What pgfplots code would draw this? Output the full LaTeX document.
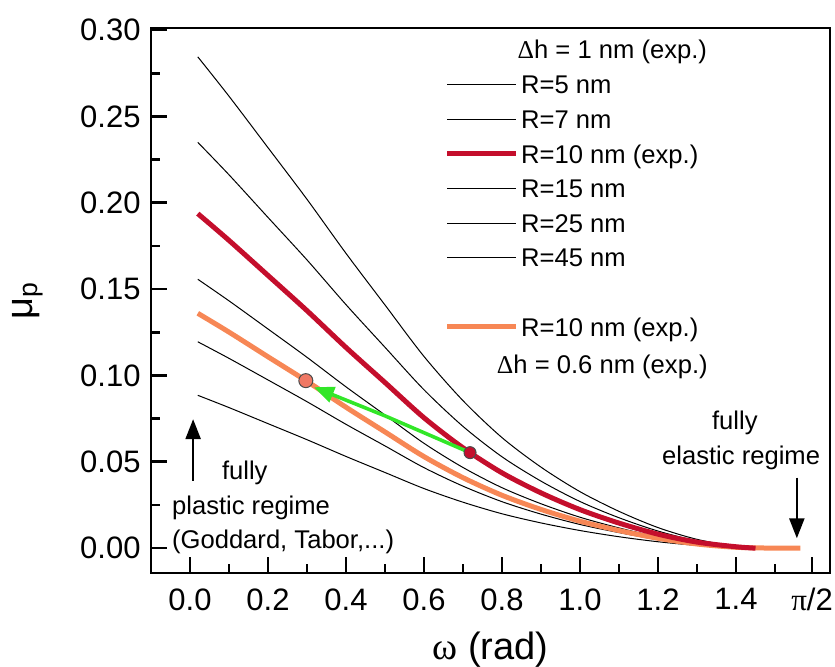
\documentclass[border=0pt]{standalone}
\usepackage{pgfplots}
\pgfplotsset{compat=1.18}
\usepackage{fontspec}
\setmainfont{Liberation Sans}
\newfontfamily\serifg{Liberation Serif}
\usetikzlibrary{arrows.meta}
\definecolor{redc}{RGB}{196,14,44}
\definecolor{orangec}{RGB}{247,135,85}
\definecolor{greenc}{RGB}{50,230,40}
\definecolor{dotor}{RGB}{240,120,100}
\newcommand{\smallfont}{\fontsize{12.8}{15}\selectfont}
\begin{document}
\begin{tikzpicture}
\begin{axis}[
  at={(0,0)}, anchor=south west,
  scale only axis, width=339.5pt, height=272.5pt,
  xmin=-0.1, xmax=1.641, ymin=-0.0144, ymax=0.3012,
  clip=false,
  axis line style={line width=1.2pt},
  tick align=inside, xtick pos=left, ytick pos=left,
  major tick length=8pt, minor tick length=4.5pt,
  tick style={draw=black, line width=1.3pt},
  xtick={0,0.2,0.4,0.6,0.8,1.0,1.2,1.4,1.595},
  xticklabels={0.0,0.2,0.4,0.6,0.8,1.0,1.2,1.4,{{\serifg π}/2}},
  minor xtick={0.1,0.3,0.5,0.7,0.9,1.1,1.3,1.5},
  ytick={0,0.05,0.1,0.15,0.2,0.25,0.3},
  minor ytick={0.025,0.075,0.125,0.175,0.225,0.275},
  /pgf/number format/assume math mode=true,
  y tick label style={/pgf/number format/fixed, /pgf/number format/fixed zerofill, /pgf/number format/precision=2, xshift=-1.7pt},
  tick label style={font=\fontsize{15.5}{18}\selectfont},
  xticklabel style={yshift=-4.2pt},
  xlabel={{\serifg ω} (rad)},
  xlabel style={at={(axis description cs:0.5,-0.1413)}, anchor=center, font=\fontsize{19}{22}\selectfont},
  ylabel={μ\textsubscript{p}},
  ylabel style={at={(axis description cs:-0.181,0.5)}, anchor=center, font=\fontsize{19}{22}\selectfont},
  legend style={at={(axis cs:0.652,0.2786)}, anchor=north west, draw=none, fill=none,
    inner sep=0pt, row sep=0pt, column sep=0pt, font=\smallfont,
    nodes={inner xsep=1.25pt, inner ysep=0pt, text height=13.25pt, text depth=4.05pt}},
  legend cell align=left,
  legend image code/.code={\draw[#1] (0pt,0pt) -- (34.5pt,0pt);},
]
% R=5
\addplot[black, line width=0.5pt, smooth, forget plot] coordinates {(0.02,0.2845)(0.1,0.2617)(0.2,0.2319)(0.3,0.2020)(0.4,0.1707)(0.5,0.1408)(0.6,0.1110)(0.7,0.0854)(0.8,0.0640)(0.9,0.0469)(1.0,0.0327)(1.1,0.0213)(1.2,0.0119)(1.3,0.0051)(1.4,0.0011)(1.5,0)};
% R=7
\addplot[black, line width=0.5pt, smooth, forget plot] coordinates {(0.02,0.235)(0.1,0.2162)(0.2,0.1915)(0.3,0.1669)(0.4,0.1410)(0.5,0.1163)(0.6,0.0917)(0.7,0.0705)(0.8,0.0529)(0.9,0.0388)(1.0,0.0270)(1.1,0.0176)(1.2,0.0099)(1.3,0.0042)(1.4,0.0009)(1.5,0)};
% R=15
\addplot[black, line width=0.5pt, smooth, forget plot] coordinates {(0.02,0.1557)(0.1,0.1432)(0.2,0.1269)(0.3,0.1105)(0.4,0.0934)(0.5,0.0771)(0.6,0.0607)(0.7,0.0467)(0.8,0.0350)(0.9,0.0257)(1.0,0.0179)(1.1,0.0117)(1.2,0.0065)(1.3,0.0028)(1.4,0.0006)(1.5,0)};
% R=25
\addplot[black, line width=0.5pt, smooth, forget plot] coordinates {(0.02,0.1195)(0.1,0.1099)(0.2,0.0974)(0.3,0.0848)(0.4,0.0717)(0.5,0.0592)(0.6,0.0466)(0.7,0.0359)(0.8,0.0269)(0.9,0.0197)(1.0,0.0137)(1.1,0.0090)(1.2,0.0050)(1.3,0.0022)(1.4,0.0005)(1.5,0)};
% R=45
\addplot[black, line width=0.5pt, smooth, forget plot] coordinates {(0.02,0.0885)(0.1,0.0814)(0.2,0.0721)(0.3,0.0628)(0.4,0.0531)(0.5,0.0438)(0.6,0.0345)(0.7,0.0266)(0.8,0.0199)(0.9,0.0146)(1.0,0.0102)(1.1,0.0066)(1.2,0.0037)(1.3,0.0016)(1.4,0.0004)(1.5,0)};
% orange R=10, dh=0.6
\addplot[orangec, line width=2.5pt, smooth, forget plot] coordinates {(0.02,0.136)(0.1,0.1251)(0.2,0.1108)(0.3,0.0966)(0.4,0.0816)(0.5,0.0673)(0.6,0.0530)(0.7,0.0408)(0.8,0.0306)(0.9,0.0224)(1.0,0.0156)(1.1,0.0102)(1.2,0.0057)(1.3,0.0024)(1.4,0.0005)(1.5,0)(1.565,0)};
% red R=10, dh=1
\addplot[redc, line width=2.5pt, smooth, forget plot] coordinates {(0.02,0.1937)(0.1,0.1782)(0.2,0.1579)(0.3,0.1375)(0.4,0.1162)(0.5,0.0959)(0.6,0.0755)(0.7,0.0581)(0.8,0.0436)(0.9,0.0320)(1.0,0.0223)(1.1,0.0145)(1.2,0.0081)(1.3,0.0035)(1.4,0.0008)(1.45,0)};
% green arrow
\addplot[greenc, line width=1.8pt, -{Triangle[width=8pt,length=10pt]}, forget plot] coordinates {(0.715,0.0556)(0.50,0.0766)(0.318,0.0932)};
% dots
\addplot[only marks, mark=*, mark size=3pt, mark options={fill=redc, draw=black!70, line width=0.5pt}, forget plot] coordinates {(0.718,0.0553)};
\addplot[only marks, mark=*, mark size=3.5pt, mark options={fill=dotor, draw=black!70, line width=0.5pt}, forget plot] coordinates {(0.297,0.0970)};
% legend
\addlegendimage{black, line width=0.5pt}\addlegendentry{R=5 nm}
\addlegendimage{black, line width=0.5pt}\addlegendentry{R=7 nm}
\addlegendimage{redc, line width=2.5pt}\addlegendentry{R=10 nm (exp.)}
\addlegendimage{black, line width=0.5pt}\addlegendentry{R=15 nm}
\addlegendimage{black, line width=0.5pt}\addlegendentry{R=25 nm}
\addlegendimage{black, line width=0.5pt}\addlegendentry{R=45 nm}
\addlegendimage{empty legend}\addlegendentry{}
\addlegendimage{orangec, line width=2.5pt}\addlegendentry{R=10 nm (exp.)}
% texts
\node[anchor=west, font=\smallfont] at (axis cs:0.822,0.2874) {{\serifg Δ}h = 1 nm (exp.)};
\node[anchor=west, font=\smallfont] at (axis cs:0.769,0.1052) {{\serifg Δ}h = 0.6 nm (exp.)};
\node[anchor=west, font=\smallfont] at (axis cs:0.064,0.0437) {fully};
\node[anchor=west, font=\smallfont] at (axis cs:-0.064,0.0236) {plastic regime};
\node[anchor=west, font=\smallfont] at (axis cs:-0.064,0.0034) {(Goddard, Tabor,...)};
\node[anchor=center, font=\smallfont] at (axis cs:1.397,0.0724) {fully};
\node[anchor=center, font=\smallfont] at (axis cs:1.413,0.0523) {elastic regime};
\draw[line width=1.2pt, -{Triangle[width=7.5pt,length=10pt]}] (axis cs:0.008,0.039) -- (axis cs:0.008,0.0747);
\draw[line width=1.2pt, -{Triangle[width=7.5pt,length=10pt]}] (axis cs:1.556,0.0408) -- (axis cs:1.556,0.0057);
\end{axis}
\pgfresetboundingbox
\path (-75.5pt,-46.5pt) rectangle (342pt,286.5pt);
\end{tikzpicture}
\end{document}
